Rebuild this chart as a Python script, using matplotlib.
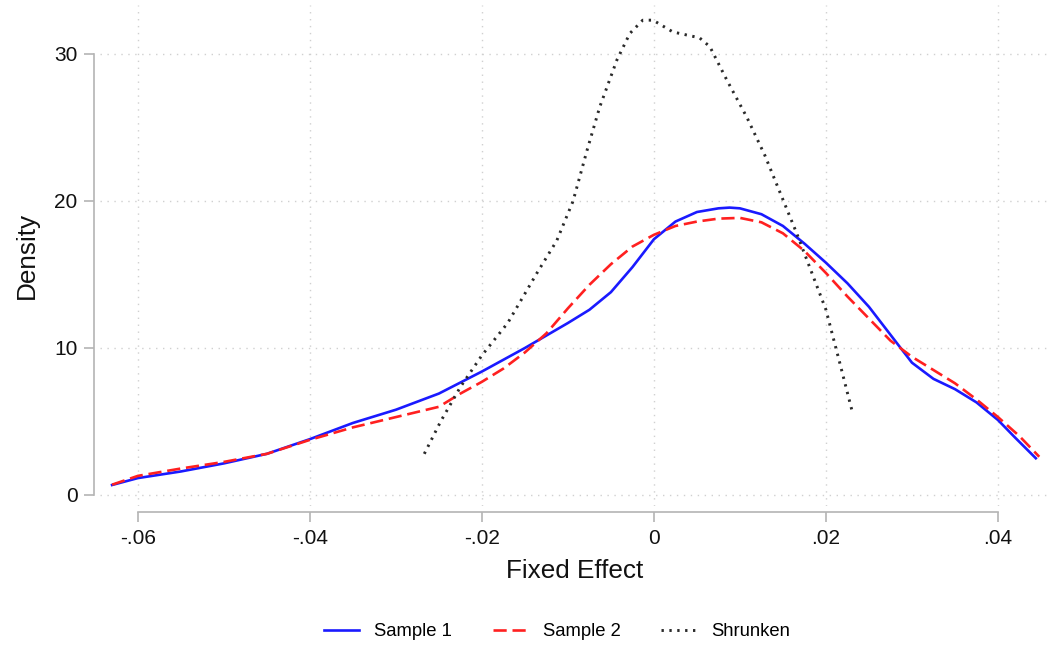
"""
Kernel density of fixed effects: two samples and the shrunken estimates
"""

import matplotlib.pyplot as plt

# values
s1_x = [-0.063, -0.06, -0.055, -0.05, -0.045, -0.04, -0.035, -0.03, -0.025, -0.02,
        -0.0175, -0.015, -0.0125, -0.01, -0.0075, -0.005, -0.0025, 0.0, 0.0025, 0.005,
        0.0075, 0.0088, 0.01, 0.0125, 0.015, 0.0175, 0.02, 0.0225, 0.025, 0.0275,
        0.03, 0.0325, 0.035, 0.0375, 0.04, 0.042, 0.0444]
s1_y = [0.68, 1.15, 1.6, 2.15, 2.8, 3.8, 4.9, 5.8, 6.9, 8.4,
        9.2, 10.0, 10.85, 11.7, 12.6, 13.8, 15.5, 17.4, 18.6, 19.25,
        19.5, 19.55, 19.5, 19.1, 18.3, 17.1, 15.8, 14.4, 12.8, 10.9,
        9.0, 7.9, 7.2, 6.3, 5.1, 3.9, 2.5]

s2_x = [-0.063, -0.06, -0.055, -0.05, -0.045, -0.04, -0.035, -0.03, -0.025, -0.0225,
        -0.02, -0.0175, -0.015, -0.0125, -0.01, -0.0075, -0.005, -0.0025, 0.0, 0.0025,
        0.005, 0.0075, 0.01, 0.0125, 0.015, 0.0175, 0.02, 0.0225, 0.025, 0.0275,
        0.03, 0.0325, 0.035, 0.0375, 0.04, 0.0425, 0.0448]
s2_y = [0.7, 1.3, 1.8, 2.25, 2.8, 3.75, 4.6, 5.3, 6.0, 6.9,
        7.7, 8.6, 9.7, 11.0, 12.7, 14.3, 15.7, 16.9, 17.7, 18.3,
        18.6, 18.8, 18.85, 18.55, 17.8, 16.6, 15.1, 13.5, 12.0, 10.5,
        9.4, 8.5, 7.6, 6.5, 5.3, 4.0, 2.6]

sh_x = [-0.0267, -0.0248, -0.0225, -0.02, -0.017, -0.0136, -0.0113, -0.0094, -0.0078, -0.0063,
        -0.0043, -0.0028, -0.0013, -0.0001, 0.0022, 0.0053, 0.0065, 0.0085, 0.0108, 0.0129,
        0.0166, 0.02, 0.0216, 0.023]
sh_y = [2.8, 5.0, 7.35, 9.5, 11.7, 15.1, 17.3, 20.0, 23.4, 26.4,
        29.6, 31.4, 32.3, 32.3, 31.5, 31.1, 30.5, 28.2, 25.7, 23.1,
        17.8, 12.6, 9.0, 5.8]

x_ticks = [-0.06, -0.04, -0.02, 0.0, 0.02, 0.04]
x_labels = ['-.06', '-.04', '-.02', '0', '.02', '.04']
y_ticks = [0, 10, 20, 30]

plt.rcParams['font.family'] = ['Liberation Sans', 'DejaVu Sans']

fig = plt.figure(figsize=(10.52, 6.46), dpi=100)
ax = fig.add_axes([0.0951, 0.2167, 0.903, 0.7755])

grid_kw = dict(color='#d0d0d0', lw=1.0, ls=(0, (1, 4)), zorder=0)
for t in x_ticks:
    ax.axvline(t, **grid_kw)
for t in y_ticks:
    ax.axhline(t, **grid_kw)

ax.plot(s1_x, s1_y, color='#1a1aff', lw=1.9, label='Sample 1', zorder=3)
ax.plot(s2_x, s2_y, color='#ff2020', lw=1.9, ls=(0, (5, 2.2)), label='Sample 2', zorder=3)
ax.plot(sh_x, sh_y, color='#2a2a2a', lw=2.1, ls=(0, (0.8, 1.9)), label='Shrunken', zorder=4)

ax.set_xlim(-0.0644, 0.04605)
ax.set_ylim(-0.75, 33.33)

for side in ['top', 'right']:
    ax.spines[side].set_visible(False)
ax.spines['left'].set_bounds(0, 30)
ax.spines['bottom'].set_bounds(-0.06, 0.04)
for side in ['left', 'bottom']:
    ax.spines[side].set_position(('outward', 4.3))
    ax.spines[side].set_color('#b4b4b4')
    ax.spines[side].set_linewidth(1.2)

ax.set_xticks(x_ticks)
ax.set_xticklabels(x_labels)
ax.set_yticks(y_ticks)
ax.tick_params(length=7, width=1.2, color='#b4b4b4', labelsize=15,
               labelcolor='#111111', pad=5)

ax.set_xlabel('Fixed Effect', fontsize=18.8, color='#111111', labelpad=8)
ax.set_ylabel('Density', fontsize=18.8, color='#111111', labelpad=11)

fig.legend(loc='center', bbox_to_anchor=(557 / 1052, 1 - 632 / 646), ncol=3,
           frameon=False, fontsize=13.3, handlelength=1.9, handletextpad=0.8,
           columnspacing=2.2)

fig.savefig('out.png', dpi=100)
